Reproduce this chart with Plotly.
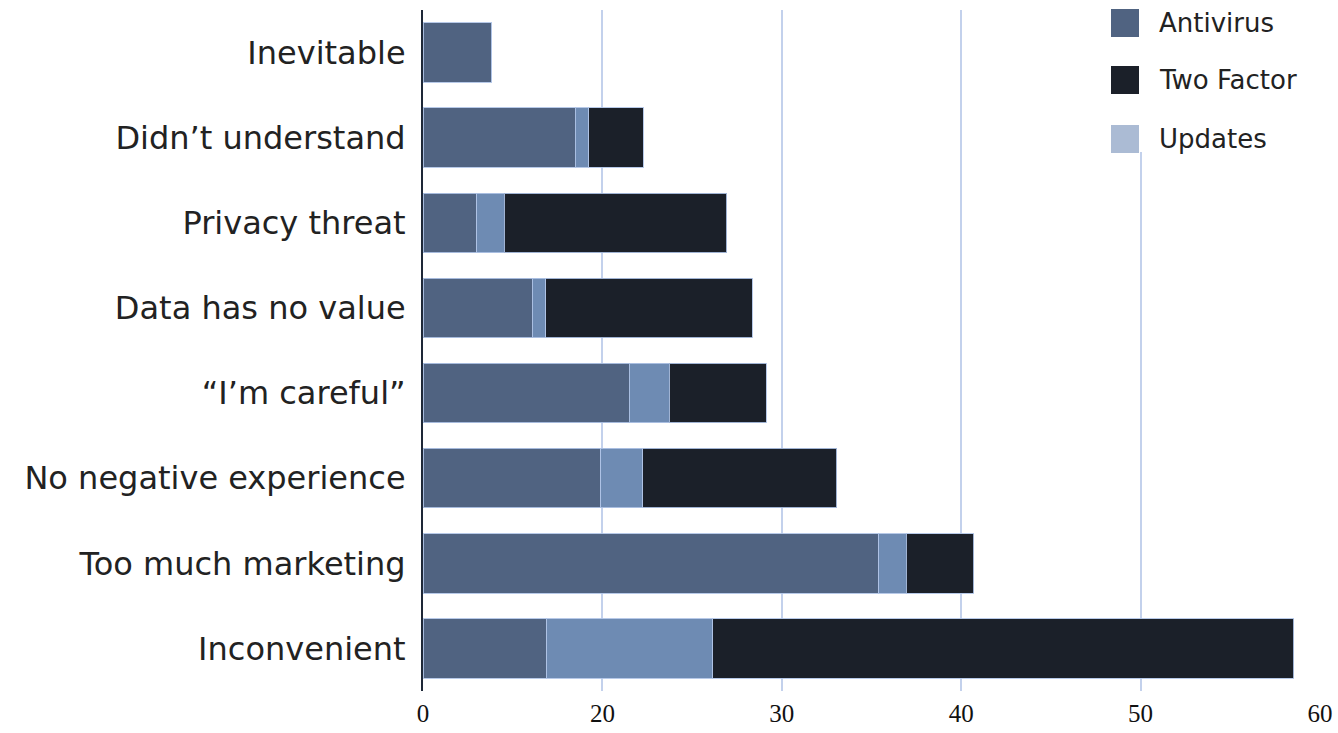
import plotly.graph_objects as go

# ---- data (top-to-bottom order) ----
categories = ["Inevitable", "Didn\u2019t understand", "Privacy threat", "Data has no value",
              "\u201cI\u2019m careful\u201d", "No negative experience", "Too much marketing", "Inconvenient"]
antivirus  = [3.8, 8.5, 3.0, 6.1, 11.5, 9.9, 25.4, 6.9]
updates    = [0.0, 0.74, 1.54, 0.74, 2.23, 2.36, 1.53, 9.25]
two_factor = [0.0, 3.03, 12.4, 11.5, 5.39, 10.8, 3.77, 32.4]

tick_vals = [0, 10, 20, 30, 40, 50]
tick_text = ["0", "20", "30", "40", "50", "60"]

legend_names = ["Antivirus", "Two Factor", "Updates"]
legend_colors = ["#506381", "#1b2029", "#abbbd4"]

C_AV, C_UP, C_TF = "#506381", "#6e8bb3", "#1b2029"
edge = dict(color="rgba(175,195,230,0.9)", width=1)

fig = go.Figure()
fig.add_trace(go.Bar(y=categories, x=antivirus, name="Antivirus", orientation="h",
                     marker=dict(color=C_AV, line=edge), showlegend=False))
fig.add_trace(go.Bar(y=categories, x=updates, name="Updates", orientation="h",
                     marker=dict(color=C_UP, line=edge), showlegend=False))
fig.add_trace(go.Bar(y=categories, x=two_factor, name="Two Factor", orientation="h",
                     marker=dict(color=C_TF, line=edge), showlegend=False))

L, R, T, B = 423, 1320, 10, 691
W, H = R - L, B - T
def px(x): return (x - L) / W
def py(y): return (B - y) / H

shapes = [dict(type="rect", xref="paper", yref="paper", x0=px(1100), x1=px(1316),
               y0=py(152), y1=py(0), fillcolor="white", line=dict(width=0), layer="above")]
annotations = []
sw_tops = [9, 66, 125]
for name, col, top in zip(legend_names, legend_colors, sw_tops):
    shapes.append(dict(type="rect", xref="paper", yref="paper", x0=px(1111), x1=px(1139),
                       y0=py(top + 28), y1=py(top), fillcolor=col, line=dict(width=0), layer="above"))
    annotations.append(dict(xref="paper", yref="paper", x=px(1157), y=py(top + 14), text=name,
                            showarrow=False, xanchor="left", yanchor="middle",
                            font=dict(family="DejaVu Sans", size=26, color="#222222")))

fig.update_layout(
    width=1338, height=733,
    barmode="stack", bargap=0.3,
    plot_bgcolor="white", paper_bgcolor="white",
    margin=dict(l=L, r=1338 - R, t=T, b=733 - B, autoexpand=False),
    shapes=shapes, annotations=annotations,
    showlegend=False,
)
fig.update_xaxes(range=[0, 50], tickvals=tick_vals, ticktext=tick_text, automargin=False,
                 showgrid=True, gridcolor="#c3d1ec", gridwidth=1.5, zeroline=False,
                 showline=False, ticks="", ticklabelstandoff=5,
                 tickfont=dict(family="Liberation Serif", size=25, color="#111111"))
fig.update_yaxes(categoryorder="array", categoryarray=categories, autorange="reversed",
                 automargin=False,
                 showgrid=False, showline=True, linecolor="#1e2838", linewidth=2,
                 ticks="", ticklabelstandoff=9,
                 tickfont=dict(family="DejaVu Sans", size=32, color="#222222"))

fig.write_html("out.html", config={"displayModeBar": False},
               post_script="document.body.style.margin='0px';document.body.style.overflow='hidden';")
